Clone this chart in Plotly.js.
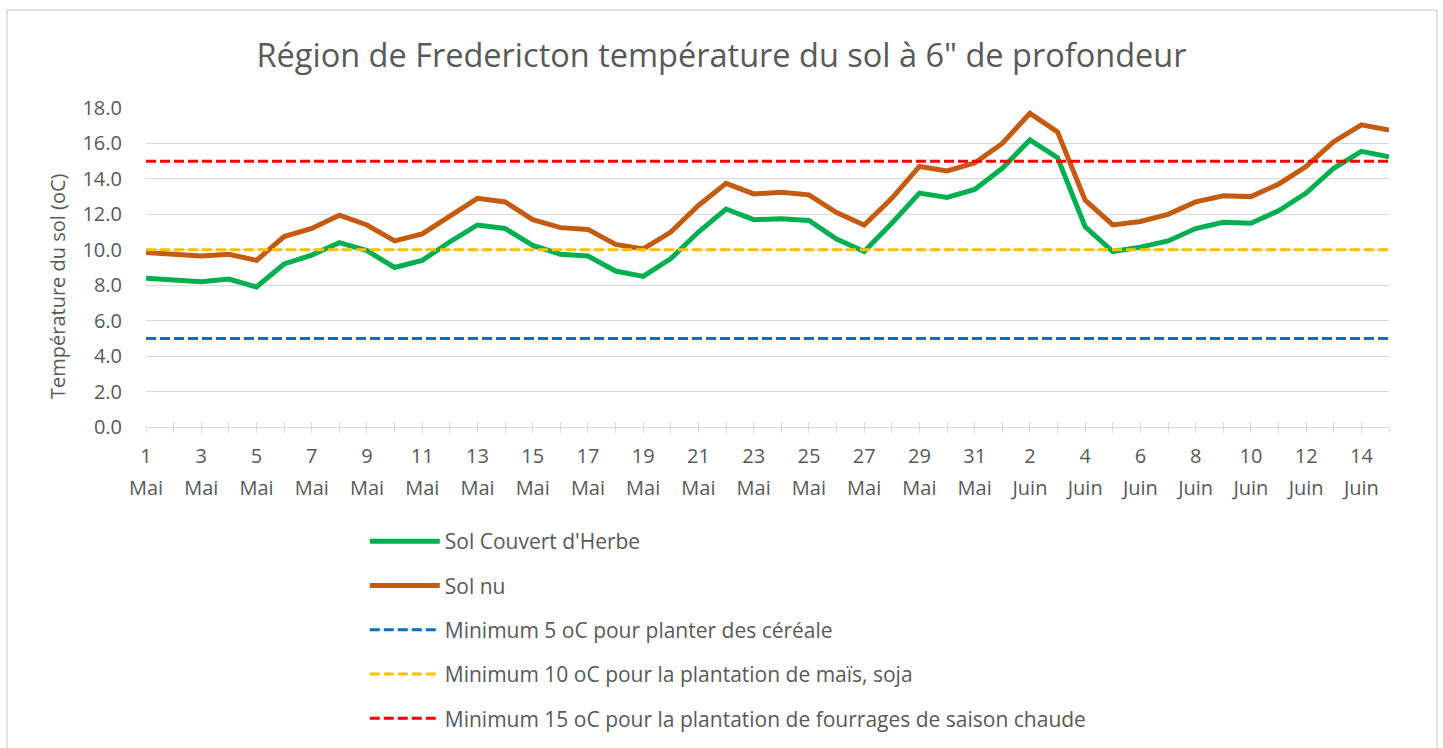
<!DOCTYPE html>
<html>
<head>
<meta charset="utf-8">
<script src="https://cdn.plot.ly/plotly-3.0.1.min.js"></script>
<style>html,body{margin:0;padding:0;background:#fff;}#chart{width:1443px;height:748px;}</style>
</head>
<body>
<div id="chart"></div>
<script>
// ---- data ----
const dayNums = ["1","2","3","4","5","6","7","8","9","10","11","12","13","14","15","16","17","18","19","20","21","22","23","24","25","26","27","28","29","30","31",
                 "1","2","3","4","5","6","7","8","9","10","11","12","13","14","15"];
const months = ["Mai","Mai","Mai","Mai","Mai","Mai","Mai","Mai","Mai","Mai","Mai","Mai","Mai","Mai","Mai","Mai","Mai","Mai","Mai","Mai","Mai","Mai","Mai","Mai","Mai","Mai","Mai","Mai","Mai","Mai","Mai",
                "Juin","Juin","Juin","Juin","Juin","Juin","Juin","Juin","Juin","Juin","Juin","Juin","Juin","Juin","Juin"];
const solHerbe = [8.4,8.3,8.2,8.35,7.9,9.2,9.7,10.4,9.95,9.0,9.4,10.45,11.4,11.2,10.25,9.75,9.65,8.8,8.5,9.5,11.0,12.3,11.7,11.75,11.65,10.6,9.9,11.5,13.2,12.95,13.4,
                  14.6,16.2,15.2,11.3,9.9,10.15,10.5,11.2,11.55,11.5,12.2,13.2,14.6,15.55,15.25];
const solNu = [9.85,9.75,9.65,9.75,9.4,10.75,11.2,11.95,11.4,10.5,10.9,11.9,12.9,12.7,11.7,11.25,11.15,10.3,10.05,11.0,12.5,13.75,13.15,13.25,13.1,12.1,11.4,12.9,14.7,14.45,14.9,
               16.0,17.7,16.65,12.8,11.4,11.6,12.0,12.7,13.05,13.0,13.7,14.7,16.1,17.05,16.75];
const seuilCereale = 5;
const seuilMais = 10;
const seuilFourrage = 15;
const yTicks = [0,2,4,6,8,10,12,14,16,18];

const names = ["Sol Couvert d'Herbe","Sol nu","Minimum 5 oC pour planter des céréale",
               "Minimum 10 oC pour la plantation de maïs, soja","Minimum 15 oC pour la plantation de fourrages de saison chaude"];
const chartTitle = 'Région de Fredericton température du sol à 6" de profondeur';
const yTitle = 'Température du sol (oC)';

// ---- build ----
const xIdx = dayNums.map((d,i)=>i);
const FONT = "Open Sans, Liberation Sans, sans-serif";
const GREY = "#595959";

function line(y, name, color, width, dash, grp){
  return {x:xIdx, y:y, type:'scatter', mode:'lines', name:name, legendgroup:grp,
          line:{color:color, width:width, dash:dash||'solid'}, hoverinfo:'y+name'};
}
const traces = [
  line(solHerbe, names[0], '#00b050', 5, null, 'a'),
  line(solNu, names[1], '#c55a11', 5, null, 'b'),
  line(xIdx.map(()=>seuilCereale), names[2], '#0070c0', 3, '10px,4px', 'c'),
  line(xIdx.map(()=>seuilMais), names[3], '#ffc000', 3, '10px,4px', 'd'),
  line(xIdx.map(()=>seuilFourrage), names[4], '#ff0000', 3, '10px,4px', 'e'),
  {x:[0,45], y:[null,null], xaxis:'x2', type:'scatter', mode:'lines', showlegend:false, hoverinfo:'skip'}
];

const layout = {
  width:1443, height:748,
  margin:{l:146, r:54, t:108, b:321},
  paper_bgcolor:'#fff', plot_bgcolor:'#fff',
  font:{family:FONT, color:GREY, size:20},
  title:{text:chartTitle, font:{family:FONT, size:32.5, color:GREY}, x:0.5, xanchor:'center', y:0.926, yanchor:'middle'},
  xaxis:{type:'linear', range:[0,45], showgrid:false, zeroline:false, automargin:false,
         showline:true, linecolor:'#d9d9d9', linewidth:1,
         tickmode:'array', tickvals:xIdx, ticktext:xIdx.map(i=>i%2===0?dayNums[i]:''),
         ticks:'outside', ticklen:5, tickcolor:'#d9d9d9', tickwidth:1,
         ticklabelstandoff:6, tickfont:{size:20, color:GREY}},
  xaxis2:{type:'linear', range:[0,45], overlaying:'x', anchor:'y', side:'bottom', automargin:false,
          showgrid:false, zeroline:false, showline:false,
          tickmode:'array', tickvals:xIdx, ticktext:xIdx.map(i=>i%2===0?months[i]:''),
          ticks:'inside', ticklen:5, tickcolor:'#d9d9d9', tickwidth:1,
          ticklabelstandoff:47, tickfont:{size:20, color:GREY}},
  yaxis:{range:[0,18], tickmode:'array', tickvals:yTicks, ticktext:yTicks.map(v=>v.toFixed(1)),
         showgrid:true, gridcolor:'#d9d9d9', gridwidth:1, zeroline:false, showline:false, automargin:false,
         ticks:'', ticklabelstandoff:23, tickfont:{size:20, color:GREY}},
  annotations:[{text:yTitle, textangle:-90, xref:'paper', yref:'paper', x:-0.0716, y:0.442,
                xanchor:'center', yanchor:'middle', showarrow:false, font:{size:20, color:GREY}}],
  showlegend:true,
  legend:{orientation:'v', xref:'paper', x:0.176, xanchor:'left', yref:'container', y:0.3035, yanchor:'top',
          font:{size:21, color:GREY}, tracegroupgap:14, itemwidth:70, bgcolor:'rgba(0,0,0,0)'},
  shapes:[{type:'rect', xref:'paper', yref:'paper', x0:-0.1118, x1:1.0386, y0:-1.2, y1:1.307,
           line:{color:'#d9d9d9', width:1.5}, fillcolor:'rgba(0,0,0,0)', layer:'below'}]
};

Plotly.newPlot('chart', traces, layout, {displayModeBar:false, responsive:false});
</script>
</body>
</html>
